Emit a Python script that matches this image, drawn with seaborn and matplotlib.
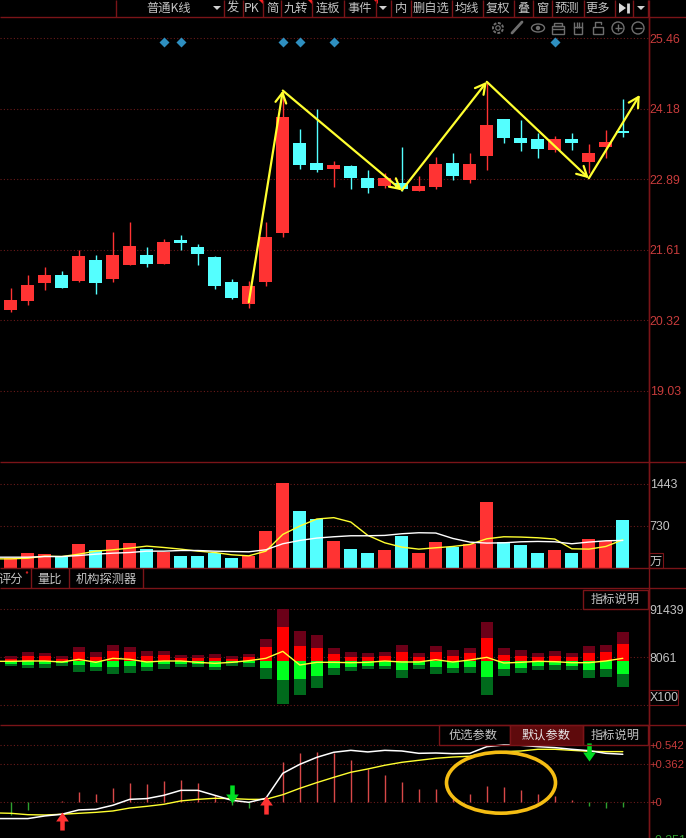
import numpy as np
import pandas as pd
import matplotlib
matplotlib.use("Agg")
import matplotlib.pyplot as plt
from matplotlib.patches import Ellipse, Rectangle, Circle, Polygon
import seaborn as sns

# ---------- data ----------
high = [20.90,21.15,21.30,21.22,21.60,21.51,21.93,22.12,21.66,21.80,21.88,21.71,21.49,21.07,21.04,22.12,24.51,23.81,24.17,23.23,
        23.15,23.06,23.00,23.48,22.95,23.30,23.37,23.37,24.67,23.99,23.97,23.73,23.68,23.74,23.54,23.79,24.36]
body_top = [20.69,20.96,21.15,21.15,21.49,21.42,21.51,21.67,21.51,21.75,21.78,21.66,21.47,21.02,20.95,21.84,24.03,23.55,23.19,23.15,
            23.13,22.91,22.91,22.83,22.77,23.17,23.19,23.17,23.88,23.99,23.65,23.63,23.63,23.63,23.37,23.57,23.77]
body_bot = [20.51,20.67,21.00,20.91,21.04,21.00,21.07,21.33,21.35,21.35,21.73,21.53,20.95,20.73,20.62,21.02,21.91,23.15,23.06,23.08,
            22.91,22.73,22.77,22.72,22.68,22.75,22.95,22.88,23.32,23.65,23.55,23.44,23.43,23.55,23.21,23.48,23.74]
low = [20.48,20.60,20.88,20.90,21.02,20.80,21.02,21.33,21.29,21.35,21.60,21.33,20.89,20.71,20.54,20.95,21.84,23.08,23.02,22.75,
       22.71,22.64,22.73,22.68,22.68,22.71,22.88,22.82,23.07,23.55,23.41,23.28,23.39,23.43,23.00,23.28,23.66]
rising = [1,1,1,0,1,0,1,1,0,1,0,0,0,0,1,1,1,0,0,1,0,0,1,0,1,1,0,1,1,0,0,0,1,0,1,1,0]

volume = [187,277,260,209,413,311,481,430,328,294,226,226,277,192,226,634,1449,974,849,464,
          328,277,311,549,277,447,368,424,1126,447,396,277,311,277,498,475,821]
vol_ma_fast = [170,170,181,215,209,249,300,323,351,385,362,334,300,277,238,221,300,583,724,843,866,
               792,566,441,368,334,357,379,413,509,543,538,526,504,340,334,379,492]
vol_ma_slow = [198,198,198,209,209,226,249,266,277,300,300,311,311,300,294,289,323,425,481,521,543,
               560,560,566,594,611,606,515,453,436,441,458,464,458,425,453,475,481]

flow_unit = 579
flow_in_total = [14,27,24,15,42,27,48,42,30,30,18,18,21,15,21,66,156,90,78,39,27,23,27,48,24,45,33,39,117,39,33,24,30,24,45,48,87]
flow_in_main = [7,16,16,7,27,12,30,27,16,18,9,9,9,6,11,42,102,45,39,21,12,12,15,27,12,27,15,24,69,18,15,12,15,12,24,27,51]
flow_out_main = [8,11,9,7,12,19,18,16,19,9,9,10,19,7,7,21,57,54,45,21,18,15,15,27,13,19,21,18,48,24,21,15,12,15,27,24,39]
flow_out_total = [15,21,21,15,33,30,39,36,30,24,18,18,27,15,18,54,129,102,81,42,30,24,24,51,24,39,36,36,102,45,36,27,27,27,51,48,78]
flow_line = [-1,-1,0,0,-3,5,-4,8,5,-3,0,0,-4,-7,-4,1,8,29,-12,-4,-4,-5,-4,0,-3,-3,4,-3,3,11,-6,-4,-1,-2,-5,-5,0,8]
flow_lower_grid = -75316

macd_fast = [-.154,-.154,-.154,-.129,-.113,-.072,-.066,-.028,.028,.035,.066,.113,.113,.066,.019,0,.038,.274,.359,.425,.473,
             .491,.476,.491,.485,.463,.466,.460,.463,.526,.542,.539,.526,.517,.501,.488,.463,.454]
macd_slow = [-.100,-.104,-.117,-.120,-.113,-.104,-.095,-.082,-.054,-.038,-.019,.013,.028,.038,.035,.028,.028,.072,.132,.186,.236,
             .284,.315,.350,.378,.397,.416,.428,.435,.463,.479,.485,.501,.501,.491,.482,.479,.479]
macd_hist = [-.120,-.072,.006,.013,.098,.079,.135,.183,.173,.202,.211,.183,.069,-.025,-.054,.022,.384,.463,.473,.469,
             .400,.315,.258,.192,.126,.126,.028,.079,.154,.145,.120,.079,.060,.019,-.032,-.054,-.047]

wave_x = [14,16,23,28,34,37]
wave_price = [20.65,24.51,22.69,24.67,22.91,24.43]
signal_idx = [9,10,16,17,19,32]
macd_up_idx, macd_up_val = [3,15], [-.181,-.021]
macd_dn_idx, macd_dn_val = [13,34], [.083,.475]

price_ticks = [25.46,24.18,22.89,21.61,20.32,19.03]
vol_ticks = [1443,730]
flow_ticks = [91439,8061]
macd_ticks = [.542,.362,0]
macd_labels = ["+0.542","+0.362","+0"]
toolbar = [("发",233),("PK",252),("简",272),("九转",296),("连板",328),("事件",360),("内",401),("删自选",431),
           ("均线",467),("复权",498),("叠",523),("窗",542),("预测",567),("更多",598)]
toolbar_seps = [116,224,243,263,281,312,344,376,391,411,452,483,514,533,552,584,615,633,648]
tabs = [("评分",11),("量比",50),("机构探测器",106)]
tab_seps = [31,69,143]

# ---------- style ----------
BG = "#000000"; RED = "#ff3333"; CYAN = "#54ffff"; YEL = "#ffff30"
BORDER = "#7a1418"; GRID = "#6a1a1a"; TXT = "#c4c4c4"; TICK_RED = "#c83c3c"
sns.set_theme(style="dark", rc={"figure.facecolor": BG, "axes.facecolor": BG, "savefig.facecolor": BG})
CJK = ["Noto Sans CJK SC", "DejaVu Sans"]
plt.rcParams["font.family"] = CJK
NUM = ["Liberation Sans", "DejaVu Sans"]

W, H = 686, 838
fig = plt.figure(figsize=(W/100, H/100), dpi=100)
x_right = 648.5
xlim = (-10.8/17, (x_right-10.8)/17)
idx = np.arange(37)
idx_line = np.arange(-1, 37)

def panel(top, bot, pa, va, pb, vb):
    ax = fig.add_axes([0, 1-bot/H, x_right/W, (bot-top)/H])
    k = (vb-va)/(pb-pa)
    ax.set_ylim(va+(bot-pa)*k, va+(top-pa)*k)
    return ax

def finish(ax, ticks, labels, colors, size=8.9):
    ax.set_xlim(*xlim)
    ax.set_xticks([]); ax.set_xlabel(""); ax.set_ylabel("")
    ax.yaxis.tick_right()
    ax.set_yticks(ticks); ax.set_yticklabels(labels, family=NUM, fontsize=size)
    ax.tick_params(axis="y", length=0, pad=0.8)
    for t, c in zip(ax.get_yticklabels(), colors):
        t.set_color(c)
    ax.grid(True, axis="y", color=GRID, lw=0.8, ls=(0, (1, 2)))
    ax.grid(False, axis="x")
    ax.set_axisbelow(True)
    for s in ax.spines.values():
        s.set_visible(False)
    ax.spines["right"].set_visible(True)
    ax.spines["right"].set_color(BORDER); ax.spines["right"].set_linewidth(1)

# ---------- price ----------
ax = panel(17.5, 462, 38.5, 25.46, 391, 19.03)
colors = [RED if r else CYAN for r in rising]
ax.vlines(idx, low, high, colors=colors, lw=1)
ax.bar(idx, np.array(body_top)-np.array(body_bot), bottom=body_bot, width=13/17, color=colors, lw=0)
ax.scatter(signal_idx, [25.39]*len(signal_idx), marker="D", s=26, color="#2e8fc0", lw=0, zorder=4)
for i in range(len(wave_x)-1):
    ax.annotate("", xy=(wave_x[i+1], wave_price[i+1]), xytext=(wave_x[i], wave_price[i]),
                arrowprops=dict(arrowstyle="->,head_length=0.55,head_width=0.3", color=YEL, lw=1.6,
                                shrinkA=0, shrinkB=0, mutation_scale=13), zorder=5, annotation_clip=False)
finish(ax, price_ticks, [f"{v:.2f}" for v in price_ticks], [TICK_RED]*6)

# ---------- volume ----------
ax = panel(462, 568.3, 483.5, 1443, 525.7, 730)
vol_df = pd.DataFrame({"i": idx, "v": volume, "kind": ["up" if r else "dn" for r in rising]})
sns.barplot(data=vol_df, x="i", y="v", hue="kind", palette={"up": RED, "dn": CYAN}, native_scale=True,
            dodge=False, width=13/17, errorbar=None, legend=False, saturation=1, ax=ax, linewidth=0)
sns.lineplot(x=idx_line, y=vol_ma_fast, color=YEL, lw=1, ax=ax, zorder=4)
sns.lineplot(x=idx_line, y=vol_ma_slow, color="white", lw=1, ax=ax, zorder=4)
finish(ax, vol_ticks, ["1443", "730"], [TXT]*2)

# ---------- fund flow ----------
FLOW_ZERO = 1634
ax = panel(588, 724.7, 609.3, 91439, 657.3, 8061)
u = flow_unit
w = 12.3/17
ax.bar(idx, np.array(flow_in_total)*u, bottom=FLOW_ZERO, width=w, color="#6b0018", lw=0)
ax.bar(idx, np.array(flow_in_main)*u, bottom=FLOW_ZERO, width=w, color="#ff0000", lw=0)
ax.bar(idx, -np.array(flow_out_total)*u, bottom=FLOW_ZERO, width=w, color="#006a1c", lw=0)
ax.bar(idx, -np.array(flow_out_main)*u, bottom=FLOW_ZERO, width=w, color="#00ff1e", lw=0)
sns.lineplot(x=idx_line, y=FLOW_ZERO+np.array(flow_line)*u, color=YEL, lw=1, ax=ax, zorder=4)
finish(ax, flow_ticks, ["91439", "8061"], [TXT]*2)
ax.axhline(flow_lower_grid, color=GRID, lw=0.8, ls=(0, (1, 2)), zorder=0)

# ---------- MACD ----------
ax = panel(724.7, 838, 764, .362, 802.3, 0)
hist = np.array(macd_hist)
hist_colors = ["#d84848" if v > 0 else "#2ea02e" for v in hist]
ax.vlines(idx, 0, hist, colors=hist_colors, lw=1)
sns.lineplot(x=idx_line, y=macd_slow, color=YEL, lw=1, ax=ax, zorder=4)
sns.lineplot(x=idx_line, y=macd_fast, color="white", lw=1.1, ax=ax, zorder=4)
up = [(-.25,-1),(.25,-1),(.25,0),(.7,0),(0,1),(-.7,0),(-.25,0),(-.25,-1)]
dn = [(x,-y) for x,y in up]
ax.scatter(macd_up_idx, macd_up_val, marker=up, s=170, color="#ff3333", lw=0, zorder=6)
ax.scatter(macd_dn_idx, macd_dn_val, marker=dn, s=170, color="#00dd22", lw=0, zorder=6)
finish(ax, macd_ticks, macd_labels, [TICK_RED]*3, size=8.1)

# ---------- overlay chrome ----------
ov = fig.add_axes([0, 0, 1, 1], facecolor="none", zorder=10)
ov.set_xlim(0, W); ov.set_ylim(H, 0); ov.axis("off")
def hl(y, x0=0, x1=W, c=BORDER, lw=1): ov.plot([x0, x1], [y, y], color=c, lw=lw, solid_capstyle="butt")
def vl(x, y0, y1, c=BORDER, lw=1): ov.plot([x, x], [y0, y1], color=c, lw=lw, solid_capstyle="butt")
def label(x, y, s, size=8.8, c=TXT, ha="center", **k):
    ov.text(x, y, s, fontsize=size, color=c, ha=ha, va="center", **k)

for y in (17.5, 462, 568.3, 588, 724.7):
    hl(y)
vl(x_right, 0, H)
for x in toolbar_seps:
    vl(x, 0, 17)
label(169, 8.5, "普通K线")
for s, x in toolbar:
    label(x, 8.5, s, family=CJK)
for x in (217, 383, 641):
    ov.add_patch(Polygon([(x-4, 6), (x+4, 6), (x, 10)], color="#d0d0d0", lw=0))
ov.add_patch(Polygon([(619, 3), (626, 8), (619, 13)], color="#d8d8d8", lw=0))
vl(628, 3, 13, c="#d8d8d8", lw=2)
for x in (260, 309, 375):
    ov.add_patch(Polygon([(x-1, 0), (x+3, 0), (x+3, 4)], color="#ff2020", lw=0))

# toolbar icons
IC = "#6e6e6e"
ov.add_patch(Circle((498, 28), 5, fill=False, ec=IC, lw=1.4, ls=(0, (1.5, 0.8))))
ov.add_patch(Circle((498, 28), 2.2, fill=False, ec=IC, lw=0.9))
ov.plot([512, 522], [33, 22], color=IC, lw=2)
ov.add_patch(Ellipse((538, 28), 13, 8, fill=False, ec=IC, lw=1))
ov.add_patch(Circle((538, 28), 2.2, color=IC, lw=0))
ov.add_patch(Rectangle((552, 26), 12, 8, fill=False, ec=IC, lw=1))
ov.add_patch(Rectangle((554, 23), 8, 3, fill=False, ec=IC, lw=1))
hl(29, 552, 564, c=IC)
ov.add_patch(Rectangle((574, 27), 8, 7, fill=False, ec=IC, lw=1))
for x in (574, 576.5, 579, 581.5):
    vl(x, 22, 28, c=IC)
ov.add_patch(Rectangle((593, 27), 10, 7, fill=False, ec=IC, lw=1))
ov.plot([595, 595, 601, 601], [27, 22, 22, 24], color=IC, lw=1)
for x in (618, 638):
    ov.add_patch(Circle((x, 28), 6, fill=False, ec=IC, lw=1))
    hl(28, x-3.5, x+3.5, c=IC)
vl(618, 24.5, 31.5, c=IC)

# tabs
for s, x in tabs:
    label(x, 579, s, size=8.8)
for x in tab_seps:
    vl(x, 568.3, 588)
ov.add_patch(Circle((27, 572.5), 1.2, color="#d02020", lw=0))

# value-panel boxes
ov.add_patch(Rectangle((649, 553), 13.5, 15, fill=False, ec=BORDER, lw=0.8))
label(655.5, 561, "万", size=8.8)
ov.add_patch(Rectangle((649, 690), 29, 15, fill=False, ec=BORDER, lw=0.8))
label(650, 698, "X100", size=8.9, ha="left", family=NUM)
label(651, 841, "-0.351", size=8.9, c="#2ea02e", ha="left", family=NUM)

# buttons
ov.add_patch(Rectangle((583, 590), 65, 19, fill=False, ec=BORDER, lw=1))
label(615, 599.5, "指标说明")
ov.add_patch(Rectangle((439, 725), 71, 20, fill=False, ec=BORDER, lw=1))
ov.add_patch(Rectangle((510, 725), 73, 20, facecolor="#5e0a0c", ec=BORDER, lw=1))
ov.add_patch(Rectangle((583, 725), 65, 20, fill=False, ec=BORDER, lw=1))
label(473, 735, "优选参数")
label(546, 735, "默认参数", c="#e8e8e8")
label(615, 735, "指标说明")

# hand-drawn ellipse
ov.add_patch(Ellipse((501, 782.7), 109, 61, fill=False, ec="#f5bd13", lw=2.6))

fig.savefig("out.png", dpi=100)
